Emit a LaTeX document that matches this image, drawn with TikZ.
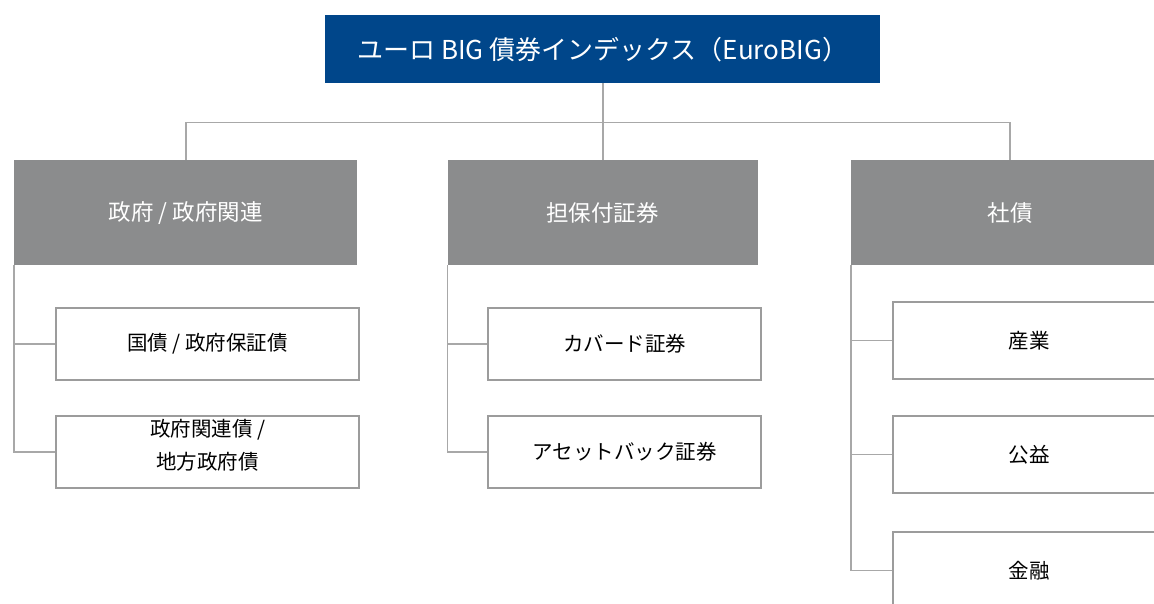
\documentclass[tikz,border=0pt]{standalone}
\usepackage{fontspec}
\setmainfont{Noto Sans CJK JP}
\definecolor{eurobl}{HTML}{00468A}
\definecolor{sectorgr}{HTML}{8B8C8D}
\definecolor{boxgr}{HTML}{9C9C9C}
\definecolor{linegr}{HTML}{A8A8A8}
\begin{document}
\begin{tikzpicture}[x=1pt,y=-1pt,
    titlebox/.style={fill=eurobl,text=white,anchor=north west,inner sep=0pt,
        minimum width=555pt,minimum height=68pt,font=\fontsize{26}{30}\selectfont},
    sector/.style={fill=sectorgr,text=white,anchor=north west,inner sep=0pt,
        minimum height=105pt,font=\fontsize{22.5}{26}\selectfont},
    subbox/.style={draw=boxgr,line width=2.2pt,fill=white,anchor=north west,inner sep=0pt,
        font=\fontsize{20.5}{33}\selectfont},
    link/.style={draw=linegr,line width=1.6pt}]
    \useasboundingbox (0,0) rectangle (1154,603);
    \clip (0,0) rectangle (1154,603);

    \node[titlebox] (top) at (325,15) {ユーロ BIG 債券インデックス（EuroBIG）};

    \node[sector,minimum width=343pt] (gov) at (14,160) {政府 / 政府関連};
    \node[sector,minimum width=310pt] (cov) at (447.5,160) {担保付証券};
    \node[sector,minimum width=318pt] (corp) at (851,160) {社債};

    \node[subbox,minimum width=303pt,minimum height=72pt] (gov1) at (55,307) {国債 / 政府保証債};
    \node[subbox,minimum width=303pt,minimum height=72pt] (gov2) at (55,415)
        {\raisebox{1pt}[0pt][0pt]{\begin{tabular}{@{}c@{}}政府関連債 /\\地方政府債\end{tabular}}};
    \node[subbox,minimum width=273pt,minimum height=72pt] (cov1) at (487,307) {カバード証券};
    \node[subbox,minimum width=273pt,minimum height=72pt] (cov2) at (487,415) {アセットバック証券};
    \node[subbox,minimum width=272pt,minimum height=77pt] (corp1) at (892,301) {産業};
    \node[subbox,minimum width=272pt,minimum height=77pt] (corp2) at (892,415) {公益};
    \node[subbox,minimum width=272pt,minimum height=77pt] (corp3) at (892,531) {金融};

    \draw[link] (top.south) -- ++(0,39) coordinate (bus);
    \draw[link] (bus) -| (gov.north);
    \draw[link] (bus) -- (cov.north);
    \draw[link] (bus) -| (corp.north);

    \draw[link] (gov.south west) |- (gov1.west);
    \draw[link] (gov.south west) |- (gov2.west);
    \draw[link] (cov.south west) |- (cov1.west);
    \draw[link] (cov.south west) |- (cov2.west);
    \draw[link] (corp.south west) |- (corp1.west);
    \draw[link] (corp.south west) |- (corp2.west);
    \draw[link] (corp.south west) |- (corp3.west);
\end{tikzpicture}
\end{document}
